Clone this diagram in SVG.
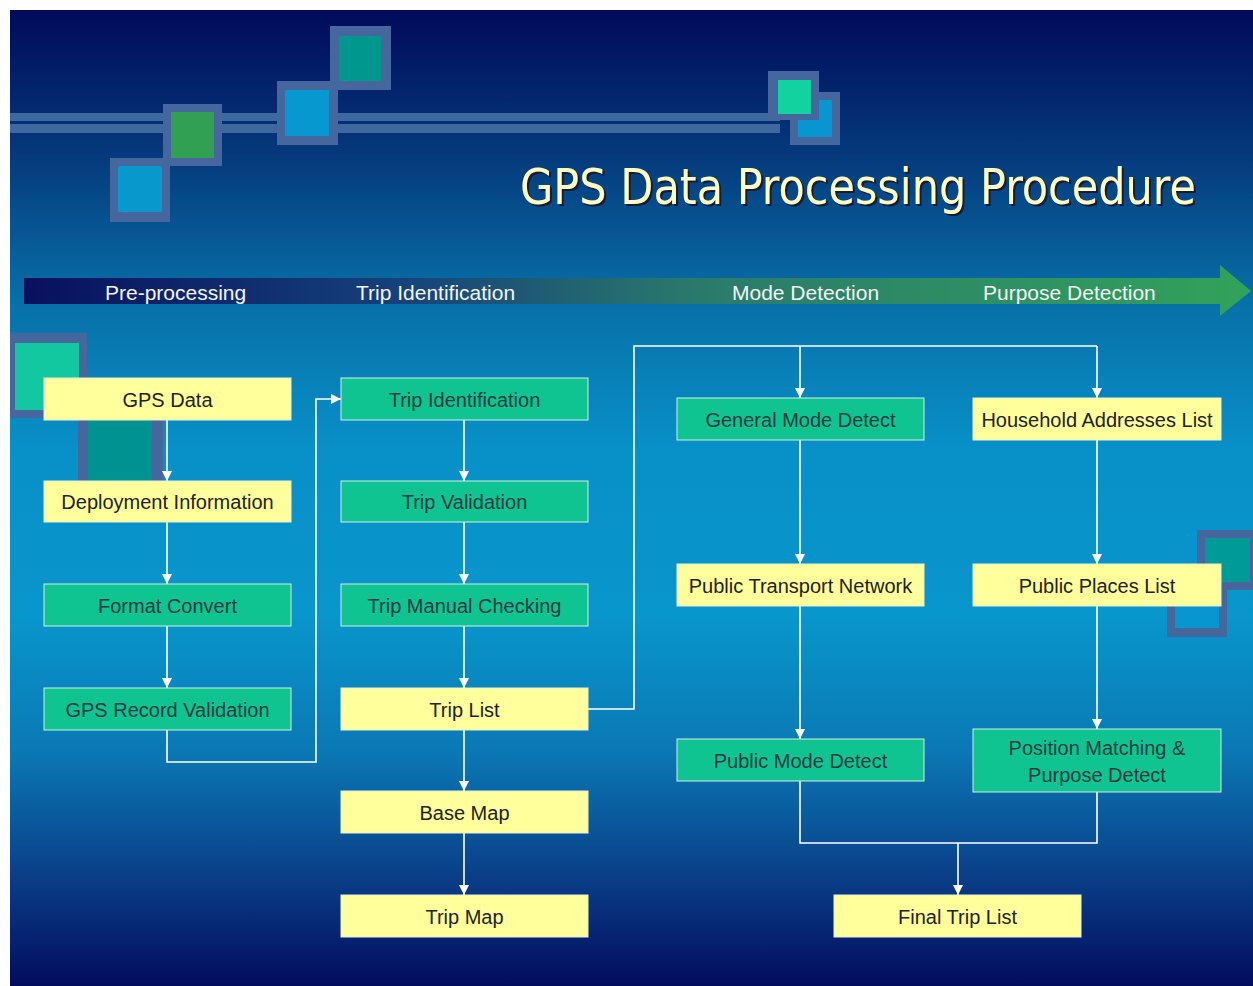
<svg xmlns="http://www.w3.org/2000/svg" width="1253" height="986" viewBox="0 0 1253 986">
<defs>
<linearGradient id="bg" x1="0" y1="0" x2="0" y2="1">
<stop offset="0" stop-color="#000a5a"/>
<stop offset="0.15" stop-color="#053a7c"/>
<stop offset="0.3" stop-color="#0870a8"/>
<stop offset="0.45" stop-color="#0890c8"/>
<stop offset="0.62" stop-color="#0896cc"/>
<stop offset="0.76" stop-color="#0a78b4"/>
<stop offset="0.88" stop-color="#0a428a"/>
<stop offset="1" stop-color="#020c5e"/>
</linearGradient>
<linearGradient id="band" x1="0" y1="0" x2="1" y2="0">
<stop offset="0" stop-color="#08105e"/>
<stop offset="0.3" stop-color="#15407a"/>
<stop offset="0.55" stop-color="#2a7a6c"/>
<stop offset="1" stop-color="#32a25a"/>
</linearGradient>
<marker id="ah" viewBox="0 0 10 10" refX="10" refY="5" markerWidth="10" markerHeight="10" markerUnits="userSpaceOnUse" orient="auto">
<path d="M0,0 L10,5 L0,10 Z" fill="#ffffff"/>
</marker>
<style>
.frame{fill:#46669e}
.y{fill:#ffff9c;stroke:#e8f0d0;stroke-width:1}
.g{fill:#10c492;stroke:#d0f0e0;stroke-width:1}
.t{font-family:"Liberation Sans",Arial,sans-serif;font-size:20px;text-anchor:middle;dominant-baseline:central}
.ty{fill:#222222}
.tg{fill:#1c3c40}
.bl{font-family:"Liberation Sans",Arial,sans-serif;font-size:21px;fill:#f4f4f4;dominant-baseline:central}
.c{fill:none;stroke:#ffffff;stroke-width:1.6}
.ttl{font-family:"DejaVu Sans Condensed","DejaVu Sans",Verdana,sans-serif;font-stretch:condensed;font-size:50px}
</style>
</defs>
<rect x="10" y="10" width="1243" height="976" fill="url(#bg)"/>
<g id="decoration">
<rect x="10" y="113" width="770" height="8" fill="#3e68a0"/>
<rect x="10" y="124" width="770" height="9" fill="#3e68a0"/>
<rect x="110" y="158" width="60" height="64" class="frame"/>
<rect x="118" y="166" width="44" height="46" fill="#0898cc"/>
<rect x="163" y="104" width="59" height="62" class="frame"/>
<rect x="171" y="112" width="43" height="46" fill="#32a052"/>
<rect x="277" y="81" width="61" height="64" class="frame"/>
<rect x="285" y="90" width="44" height="46" fill="#0898d0"/>
<rect x="330" y="26" width="61" height="64" class="frame"/>
<rect x="339" y="36" width="42" height="45" fill="#00988e"/>
<rect x="790" y="92" width="50" height="53" class="frame"/>
<rect x="798" y="100" width="34" height="37" fill="#0896d2"/>
<rect x="768" y="71" width="51" height="49" class="frame"/>
<rect x="778" y="80" width="33" height="34" fill="#12d2a0"/>
<rect x="10" y="333" width="77" height="85" class="frame"/>
<rect x="15" y="343" width="64" height="67" fill="#12c8a0"/>
<rect x="78" y="418" width="85" height="70" class="frame"/>
<rect x="88" y="420" width="64" height="68" fill="#009290"/>
<rect x="1167" y="578" width="60" height="59" class="frame"/>
<rect x="1175" y="585" width="44" height="43" fill="#0896d0"/>
<rect x="1197" y="530" width="56" height="60" class="frame"/>
<rect x="1205" y="538" width="45" height="44" fill="#009a98"/>
</g>
<g id="title">
<text class="ttl" x="522" y="206" fill="#1a1a30" textLength="676" lengthAdjust="spacingAndGlyphs">GPS Data Processing Procedure</text>
<text class="ttl" x="520" y="204" fill="#ffffc4" textLength="676" lengthAdjust="spacingAndGlyphs">GPS Data Processing Procedure</text>
</g>
<g id="phase-arrow">
<path d="M24,278 L1220,278 L1220,265 L1251,291 L1220,316 L1220,304 L24,304 Z" fill="url(#band)"/>
<text class="bl" x="105" y="292">Pre-processing</text>
<text class="bl" x="356" y="292">Trip Identification</text>
<text class="bl" x="732" y="292">Mode Detection</text>
<text class="bl" x="983" y="292">Purpose Detection</text>
</g>
<g id="connectors">
<line class="c" x1="167" y1="420" x2="167" y2="481" marker-end="url(#ah)"/>
<line class="c" x1="167" y1="522" x2="167" y2="584" marker-end="url(#ah)"/>
<line class="c" x1="167" y1="626" x2="167" y2="688" marker-end="url(#ah)"/>
<polyline class="c" points="167,730 167,762 316,762 316,399 341,399" marker-end="url(#ah)"/>
<line class="c" x1="464" y1="420" x2="464" y2="481" marker-end="url(#ah)"/>
<line class="c" x1="464" y1="522" x2="464" y2="584" marker-end="url(#ah)"/>
<line class="c" x1="464" y1="626" x2="464" y2="688" marker-end="url(#ah)"/>
<line class="c" x1="464" y1="730" x2="464" y2="791" marker-end="url(#ah)"/>
<line class="c" x1="464" y1="833" x2="464" y2="895" marker-end="url(#ah)"/>
<polyline class="c" points="588,709 634,709 634,346 1097,346"/>
<line class="c" x1="800" y1="346" x2="800" y2="398" marker-end="url(#ah)"/>
<line class="c" x1="1097" y1="346" x2="1097" y2="398" marker-end="url(#ah)"/>
<line class="c" x1="800" y1="440" x2="800" y2="564" marker-end="url(#ah)"/>
<line class="c" x1="800" y1="606" x2="800" y2="739" marker-end="url(#ah)"/>
<line class="c" x1="1097" y1="440" x2="1097" y2="564" marker-end="url(#ah)"/>
<line class="c" x1="1097" y1="606" x2="1097" y2="729" marker-end="url(#ah)"/>
<polyline class="c" points="800,781 800,843 1097,843 1097,792"/>
<line class="c" x1="958" y1="843" x2="958" y2="895" marker-end="url(#ah)"/>
</g>
<g id="n-gps-data"><rect class="y" x="44" y="378" width="247" height="42"/><text class="t ty" x="167.5" y="400">GPS Data</text></g>
<g id="n-deployment"><rect class="y" x="44" y="481" width="247" height="41"/><text class="t ty" x="167.5" y="502">Deployment Information</text></g>
<g id="n-format"><rect class="g" x="44" y="584" width="247" height="42"/><text class="t tg" x="167.5" y="606">Format Convert</text></g>
<g id="n-gps-record"><rect class="g" x="44" y="688" width="247" height="42"/><text class="t tg" x="167.5" y="710">GPS Record Validation</text></g>
<g id="n-trip-id"><rect class="g" x="341" y="378" width="247" height="42"/><text class="t tg" x="464.5" y="400">Trip Identification</text></g>
<g id="n-trip-valid"><rect class="g" x="341" y="481" width="247" height="41"/><text class="t tg" x="464.5" y="502">Trip Validation</text></g>
<g id="n-trip-manual"><rect class="g" x="341" y="584" width="247" height="42"/><text class="t tg" x="464.5" y="606">Trip Manual Checking</text></g>
<g id="n-trip-list"><rect class="y" x="341" y="688" width="247" height="42"/><text class="t ty" x="464.5" y="710">Trip List</text></g>
<g id="n-base-map"><rect class="y" x="341" y="791" width="247" height="42"/><text class="t ty" x="464.5" y="813">Base Map</text></g>
<g id="n-trip-map"><rect class="y" x="341" y="895" width="247" height="42"/><text class="t ty" x="464.5" y="917">Trip Map</text></g>
<g id="n-general-mode"><rect class="g" x="677" y="398" width="247" height="42"/><text class="t tg" x="800.5" y="420">General Mode Detect</text></g>
<g id="n-public-transport"><rect class="y" x="677" y="564" width="247" height="42"/><text class="t ty" x="800.5" y="586">Public Transport Network</text></g>
<g id="n-public-mode"><rect class="g" x="677" y="739" width="247" height="42"/><text class="t tg" x="800.5" y="761">Public Mode Detect</text></g>
<g id="n-household"><rect class="y" x="973" y="398" width="248" height="42"/><text class="t ty" x="1097" y="420">Household Addresses List</text></g>
<g id="n-public-places"><rect class="y" x="973" y="564" width="248" height="42"/><text class="t ty" x="1097" y="586">Public Places List</text></g>
<g id="n-position"><rect class="g" x="973" y="729" width="248" height="63"/><text class="t tg" x="1097" y="748">Position Matching &amp;</text><text class="t tg" x="1097" y="775">Purpose Detect</text></g>
<g id="n-final"><rect class="y" x="834" y="895" width="247" height="42"/><text class="t ty" x="957.5" y="917">Final Trip List</text></g>
</svg>
